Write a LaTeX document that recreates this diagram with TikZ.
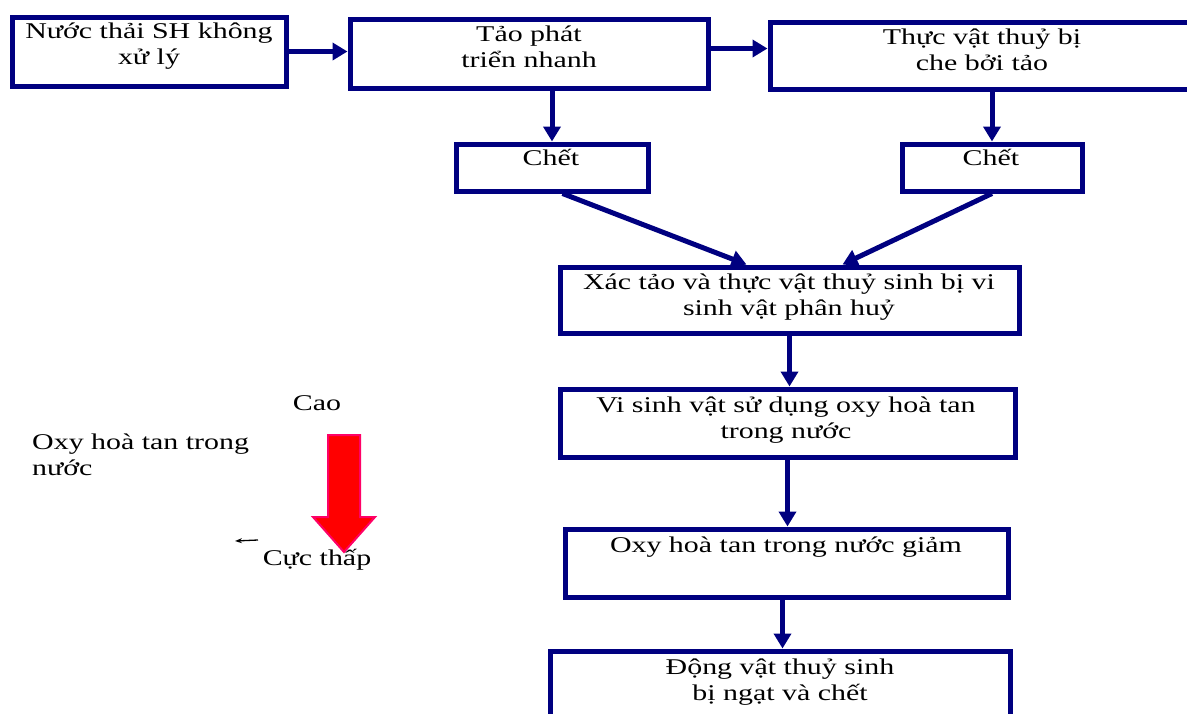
\documentclass[tikz,border=0pt]{standalone}
\usepackage{fontspec}
\setmainfont{Liberation Serif}[FakeStretch=1.33]
\usetikzlibrary{arrows.meta}
\definecolor{navyb}{RGB}{0,0,128}
\definecolor{redfill}{RGB}{255,0,0}
\definecolor{pinkedge}{RGB}{255,0,102}
\tikzset{
  box/.style={draw=navyb, line width=5pt, inner sep=0pt, fill=none},
  txt/.style={font=\fontsize{22.5}{26}\selectfont, align=center, inner sep=0pt, anchor=base},
  lbl/.style={font=\fontsize{22.5}{26}\selectfont, inner sep=0pt},
  arr/.style={draw=navyb, line width=5pt, -{Triangle[length=15pt,width=17pt]}},
}
\begin{document}
\begin{tikzpicture}[x=1pt,y=-1pt]
\useasboundingbox (0,0) rectangle (1187,713);
\clip (0,0) rectangle (1187,713);
% boxes
\node[box, minimum width=274pt, minimum height=69pt] (b1) at (149,51.5) {};
\node[box, minimum width=358pt, minimum height=69pt] (b2) at (529,53.5) {};
\node[box, minimum width=424pt, minimum height=67pt] (b3) at (982,55.5) {};
\node[box, minimum width=192pt, minimum height=47pt] (c1) at (552,167.5) {};
\node[box, minimum width=180pt, minimum height=47pt] (c2) at (992,167.5) {};
\node[box, minimum width=459pt, minimum height=66pt] (b4) at (789.5,300) {};
\node[box, minimum width=455pt, minimum height=68pt] (b5) at (787.5,423) {};
\node[box, minimum width=443pt, minimum height=68pt] (b6) at (786.5,563) {};
\node[box, minimum width=460pt, minimum height=69pt] (b7) at (780,685.5) {};
% texts (anchor base = baseline of last line)
\node[txt] (t1) at (149,64) {Nước thải SH không\\xử lý};
\node[txt] (t2) at (529,67) {Tảo phát\\triển nhanh};
\node[txt] (t3) at (982,70) {Thực vật thuỷ bị\\che bởi tảo};
\node[txt] (t4) at (551,165) {Chết};
\node[txt] (t5) at (991,165) {Chết};
\node[txt] (t6) at (789,315) {Xác tảo và thực vật thuỷ sinh bị vi\\sinh vật phân huỷ};
\node[txt] (t7) at (786,438) {Vi sinh vật sử dụng oxy hoà tan\\trong nước};
\node[txt] (t8) at (786,552) {Oxy hoà tan trong nước giảm};
\node[txt] (t9) at (780,700) {Động vật thuỷ sinh\\bị ngạt và chết};
% connectors
\draw[arr] (b1.east) -- (b1.east -| b2.west);
\draw[arr] ([yshift=5pt]b2.east) -- ([yshift=5pt]b2.east -| b3.west);
\draw[arr] (c1.north |- b2.south) -- (c1.north);
\draw[arr] (c2.north |- b3.south) -- (c2.north);
\draw[arr] ([xshift=109pt]c1.south west) -- ([xshift=-43pt]b4.north);
\draw[arr] (c2.south) -- ([xshift=53pt]b4.north);
\draw[arr] (b4.south) -- (b4.south |- b5.north);
\draw[arr] (b5.south) -- (b5.south |- b6.north);
\draw[arr] ([xshift=-4pt]b6.south) -- ([xshift=-4pt]b6.south |- b7.north);
% left legend
\node[lbl, anchor=base] (cao) at (317,410) {Cao};
\node[lbl, anchor=base west, align=left] (oxy) at (32,475) {Oxy hoà tan trong\\nước};
\node[lbl, anchor=base] (cuc) at (317,565) {Cực thấp};
\draw[fill=redfill, draw=pinkedge, line width=2pt, line join=miter]
  (328,435) -- (360,435) -- (360,517) -- (375,517) -- (344,552) -- (313,517) -- (328,517) -- cycle;
\coordinate (sa) at (258,540);
\coordinate (sb) at (235,541);
\draw[line width=1.3pt, -{Stealth[length=7pt,width=5pt]}] (sa) -- (sb);
\end{tikzpicture}
\end{document}
